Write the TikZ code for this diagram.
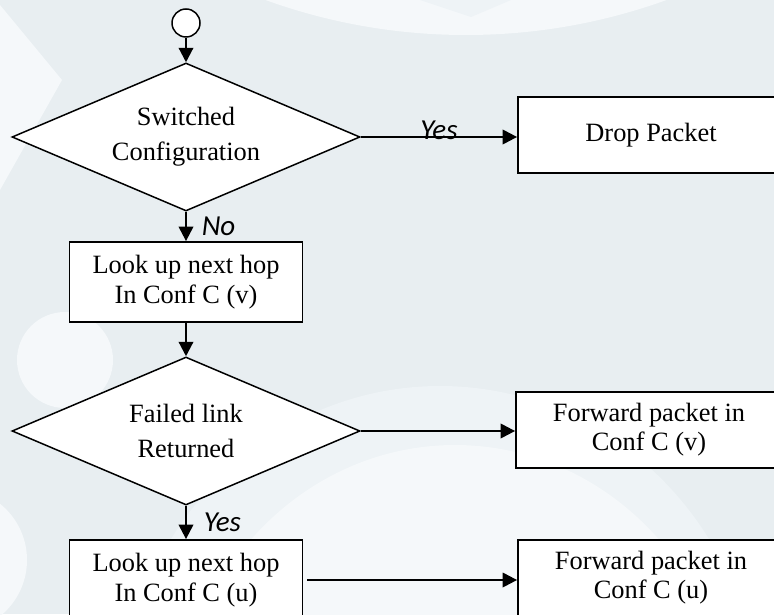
\documentclass[tikz,border=0pt]{standalone}
\usepackage{fontspec}
\setmainfont{Liberation Serif}
\newfontfamily\labelfont{Carlito}
\usetikzlibrary{shapes.geometric,arrows.meta}
\definecolor{bgblue}{RGB}{232,238,241}
\definecolor{wmark}{RGB}{245,248,250}

\begin{document}
\begin{tikzpicture}[x=0.5pt,y=-0.5pt,
    box/.style={draw, fill=white, line width=0.9pt, minimum width=116.5pt,
      minimum height=40pt, align=center, font=\fontsize{13.2}{15}\selectfont},
    outbox/.style={box, minimum width=133pt, minimum height=38pt,
      font=\fontsize{13.2}{14.5}\selectfont},
    decision/.style={diamond, draw, fill=white, line width=0.75pt, aspect=2.35,
      minimum width=174pt, minimum height=74pt, inner sep=0pt, align=center,
      font=\fontsize{13.2}{17.5}\selectfont},
    startnode/.style={circle, draw, fill=white, line width=0.75pt,
      minimum size=14pt, inner sep=0pt},
    flow/.style={line width=1.1pt, -{Triangle[length=7.2pt,width=7.2pt]}},
    answer/.style={font=\labelfont\itshape\fontsize{14.5}{16}\selectfont}]
  % background
  \useasboundingbox (0,0) rectangle (774,614);
  \fill[bgblue] (0,0) rectangle (774,614);
  \begin{scope}
    \clip (0,0) rectangle (774,614);
    \fill[wmark] (466,-554) circle[radius=294.5pt];
    \fill[bgblue!50!wmark] (420,0) -- (471,17) -- (511,0) -- cycle;
    \fill[wmark] (0,5) -- (62,80) -- (0,190) -- cycle;
    \fill[wmark] (65,360) circle[radius=24pt];
    \fill[wmark] (-45,560) circle[radius=36pt];
    \fill[wmark!50!bgblue] (440,720) ellipse[x radius=160pt, y radius=167pt];
    \fill[wmark] (455,745) ellipse[x radius=140pt, y radius=150pt];
  \end{scope}

  % nodes
  \node[startnode] (start) at (186,23) {};
  \node[decision] (switched) at (186,137) {Switched\\Configuration};
  \node[outbox] (drop) at (651,135) {Drop Packet};
  \node[box] (lookv) at (186,282) {Look up next hop\\In Conf C (v)};
  \node[decision] (failed) at (186,431) {Failed link\\Returned};
  \node[outbox] (fwdv) at (649,430) {Forward packet in\\Conf C (v)};
  \node[box] (looku) at (186,580) {Look up next hop\\In Conf C (u)};
  \node[outbox] (fwdu) at (651,578) {Forward packet in\\Conf C (u)};

  % connectors
  \draw[flow] (start) -- (switched);
  \draw[flow] (switched.east) -- (switched.east -| drop.west)
    node[answer, midway, anchor=base, yshift=-1.5pt] {Yes};
  \draw[flow] (switched) -- (lookv) node[answer, midway, right=4pt] {No};
  \draw[flow] (lookv) -- (failed);
  \draw[flow] (failed.east) -- (failed.east -| fwdv.west);
  \draw[flow] (failed) -- (looku) node[answer, midway, right=5pt] {Yes};
  \draw[flow, shorten <=2pt] (looku.east) -- (looku.east -| fwdu.west);
\end{tikzpicture}
\end{document}
